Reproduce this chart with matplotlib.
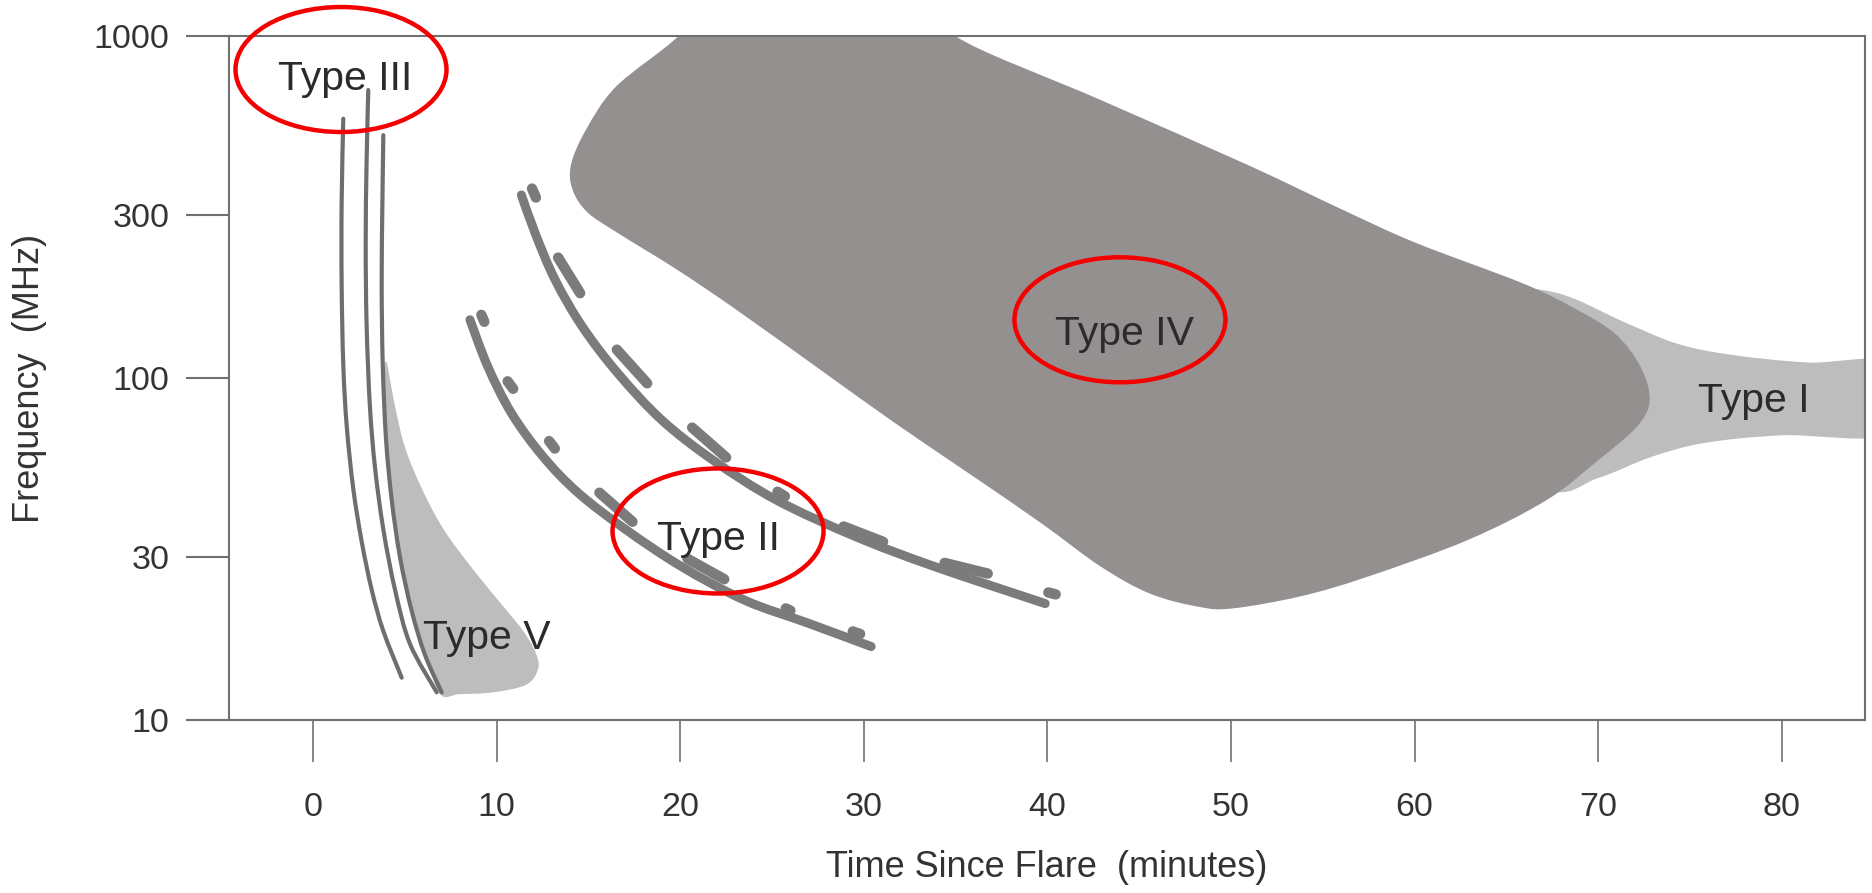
#!/usr/bin/env python

import numpy as np

import matplotlib
matplotlib.use('Agg')
from matplotlib import pyplot as plt
from matplotlib.path import Path
from matplotlib.patches import PathPatch, Ellipse

plt.rcParams['font.family'] = ['Liberation Sans', 'DejaVu Sans']

# outlines of the burst regions (minutes, MHz); first two type IV points sit above the frame
type4_t = [36.0, 20.5, 19.9, 16.5, 14.86, 14.05, 14.14, 14.95, 16.62, 19.85, 23.08, 27.39, 31.7,
           36.0, 39.7, 42.9, 45.6, 48.3, 50.1, 53.8, 57.4, 62.9, 67.2, 70.0, 72.1, 72.8, 72.3,
           70.9, 68.6, 65.8, 60.1, 56.1, 50.9, 42.9, 35.0]
type4_f = [1200, 1200, 1000, 711, 531, 420, 355, 305, 265, 207, 158, 108, 73.8,
           51.4, 37.5, 28.1, 23.4, 21.4, 21.2, 23.0, 26.2, 33.6, 44, 57.5, 72, 86, 108,
           135, 161, 190, 248, 310, 420, 650, 1000]

# type I: left end is hidden behind type IV
type1_t = [60.0, 64.5, 67.8, 71.5, 74.3, 77.2, 81.4, 86.0, 86.0, 80.0, 75.8, 72.9, 70.0, 67.0, 60.0]
type1_f = [150, 180, 177, 145, 126, 117, 111, 110, 69, 68, 64.6, 58.8, 51, 47, 70]

type5_t = [3.98, 4.47, 5.01, 5.92, 7.10, 8.73, 10.55, 11.45, 12.09, 12.27, 11.64, 9.82, 8.0,
           6.92, 6.15, 5.42, 4.79, 4.34, 4.03, 3.9]
type5_f = [112, 82.6, 62.7, 47.6, 36.2, 27.5, 20.9, 18.2, 15.9, 14.2, 12.7, 12.05, 11.9,
           11.9, 15.5, 20.9, 29.9, 43.9, 66, 90]

# type III bursts
type3_t = [[1.65, 1.56, 1.56, 1.65, 1.84, 2.19, 2.65, 3.2, 3.83, 4.83],
           [3.01, 2.92, 2.87, 2.92, 3.10, 3.38, 3.83, 4.47, 5.28, 6.74],
           [3.83, 3.78, 3.74, 3.80, 3.98, 4.29, 4.74, 5.37, 6.10, 7.01]]
type3_f = [[573, 326, 188, 109, 72, 47.6, 33.3, 24, 18.2, 13.3],
           [695, 430, 248, 143, 82.6, 54.6, 36.1, 24, 16.7, 12.05],
           [513, 326, 188, 109, 66, 43.9, 29.9, 20.9, 15.5, 12.05]]

# type II bursts (fundamental and harmonic lanes)
type2_t = [[8.55, 9.52, 10.81, 12.53, 14.47, 17.05, 20.07, 23.51, 26.96, 30.4],
           [11.35, 12.1, 13.18, 14.68, 16.62, 18.99, 21.79, 25.23, 29.54, 33.85, 39.88]]
type2_f = [[148, 108, 78.9, 58.9, 46, 36, 28.1, 22.4, 19.2, 16.4],
           [343, 265, 194, 141, 103, 75.4, 57.5, 44, 34.4, 28.1, 21.9]]

# broken companion lanes: start time, start freq, end time, end freq
dash_t0 = [9.17, 10.6, 12.86, 15.6, 20.4, 25.75, 29.4,
           11.93, 13.35, 16.55, 20.65, 25.3, 28.9, 34.4, 40.05]
dash_f0 = [153, 97.8, 65.4, 46.2, 29.6, 21.2, 18.15,
           358, 225, 121, 71.6, 46.5, 36.8, 28.8, 23.6]
dash_t1 = [9.33, 10.9, 13.17, 17.4, 22.4, 26.0, 29.8,
           12.14, 14.55, 18.2, 22.5, 25.7, 31.05, 36.75, 40.45]
dash_f1 = [146, 93, 62.2, 38, 25.8, 20.9, 17.85,
           337, 177, 96.5, 58.6, 45.1, 33.2, 26.8, 23.3]

# labels
label_text = ['Type III', 'Type II', 'Type IV', 'Type I', 'Type V']
label_t = [1.74, 22.1, 44.2, 78.46, 9.46]
label_f = [695, 31.4, 124.7, 79.7, 16.1]

# highlighted labels
ring_t = [1.525, 22.06, 43.95]
ring_f = [798, 35.7, 148]

xticks = [0, 10, 20, 30, 40, 50, 60, 70, 80]
yticks = [10, 30, 100, 300, 1000]


# smooth curve through the read points (catmull-rom in time / log-frequency)
def splinePath( ts, fs, closed=False ):

    p = np.column_stack( [ ts, np.log10( fs ) ] )
    n = len( p )

    def get( i ):
        if closed:
            return p[ i % n ]
        return p[ min( max( i, 0 ), n - 1 ) ]

    verts = [ p[ 0 ] ]; codes = [ Path.MOVETO ]
    segs = range( n ) if closed else range( n - 1 )
    for i in segs:
        p0, p1, p2, p3 = get( i - 1 ), get( i ), get( i + 1 ), get( i + 2 )
        c1 = p1 + ( p2 - p0 ) / 6.0
        c2 = p2 - ( p3 - p1 ) / 6.0
        verts += [ c1, c2, p2 ]
        codes += [ Path.CURVE4 ] * 3

    if closed:
        verts.append( p[ 0 ] ); codes.append( Path.CLOSEPOLY )

    verts = np.array( verts )
    verts[ :, 1 ] = 10 ** verts[ :, 1 ]
    return Path( verts, codes )


fig = plt.figure( figsize=(18.72, 8.93), dpi=100 )
ax = fig.add_axes( [ 229 / 1872, 173 / 893, 1636 / 1872, 684 / 893 ] )

ax.set_yscale( 'log' )
ax.set_xlim( -4.575, 84.53 )
ax.set_ylim( 10, 1000 )

light = '#bdbdbd'; dark = '#94908f'

ax.add_patch( PathPatch( splinePath( type1_t, type1_f, True ), fc=light, ec='none', zorder=1 ) )
ax.add_patch( PathPatch( splinePath( type4_t, type4_f, True ), fc=dark, ec='none', zorder=2 ) )
ax.add_patch( PathPatch( splinePath( type5_t, type5_f, True ), fc=light, ec='none', zorder=2 ) )

for ts, fs in zip( type3_t, type3_f ):
    ax.add_patch( PathPatch( splinePath( ts, fs ), fill=False, ec='#6e6e6e', lw=3.0,
                             capstyle='round', zorder=3 ) )

for ts, fs in zip( type2_t, type2_f ):
    ax.add_patch( PathPatch( splinePath( ts, fs ), fill=False, ec='#7b7b7b', lw=6.5,
                             capstyle='round', zorder=3 ) )

for t0, f0, t1, f1 in zip( dash_t0, dash_f0, dash_t1, dash_f1 ):
    ax.plot( [ t0, t1 ], [ f0, f1 ], color='#7b7b7b', lw=7.5, solid_capstyle='round', zorder=3 )

for txt, t, f in zip( label_text, label_t, label_f ):
    ax.text( t, f, txt, fontsize=29.5, color='#2b2b2b', ha='center', va='baseline', zorder=4 )

# red rings round the labels, fixed size in pixels
ring_w = 211 / ax.bbox.width; ring_h = 125 / ax.bbox.height
for t, f in zip( ring_t, ring_f ):
    cx, cy = ax.transAxes.inverted().transform( ax.transData.transform( ( t, f ) ) )
    ax.add_patch( Ellipse( ( cx, cy ), ring_w, ring_h, transform=ax.transAxes, fill=False,
                           ec='#f40000', lw=3.2, clip_on=False, zorder=5 ) )

# axes styling
ax.set_xticks( xticks )
ax.set_xticklabels( [ str( v ) for v in xticks ] )
ax.set_yticks( yticks )
ax.set_yticklabels( [ str( v ) for v in yticks ] )
ax.minorticks_off()

for s in ax.spines.values():
    s.set_color( '#707070' ); s.set_linewidth( 1.5 )

ax.tick_params( axis='y', length=31, width=1.5, color='#707070', pad=12,
                labelsize=24.5, labelcolor='#333333' )
ax.tick_params( axis='x', length=30, width=1.2, color='#707070', pad=22,
                labelsize=24.5, labelcolor='#333333' )

ax.set_xlabel( 'Time Since Flare  (minutes)', fontsize=26, color='#333333' )
ax.set_ylabel( 'Frequency  (MHz)', fontsize=26, color='#333333' )
ax.xaxis.set_label_coords( 0.5, -0.19 )
ax.yaxis.set_label_coords( -0.111, 0.5 )

fig.savefig( 'out.png', dpi=100 )
